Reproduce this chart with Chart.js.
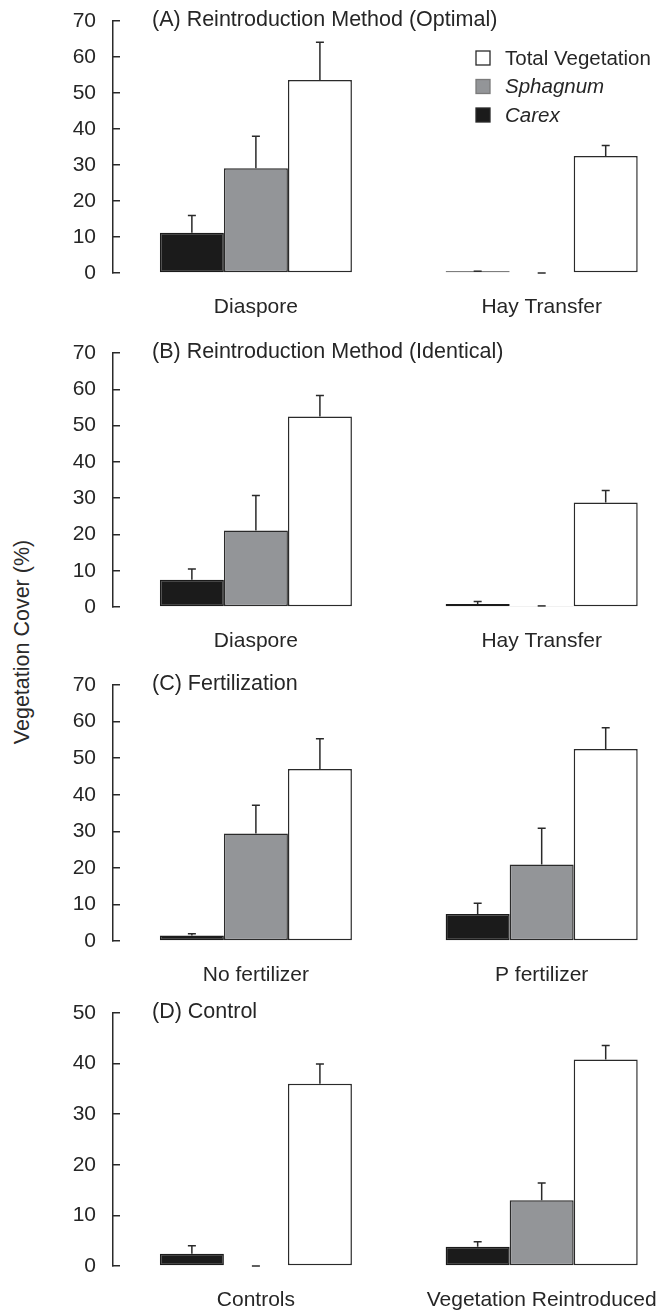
<!DOCTYPE html>
<html>
<head>
<meta charset="utf-8">
<script src="https://cdn.jsdelivr.net/npm/chart.js@4.4.1/dist/chart.umd.min.js"></script>
<style>
  html, body { margin: 0; padding: 0; background: #fff; width: 660px; height: 1310px; overflow: hidden; }
  body { position: relative; }
  canvas { position: absolute; left: 0; }
  #ytitle {
    position: absolute; left: -127px; top: 629px; width: 300px; height: 26px; line-height: 26px;
    text-align: center; transform: rotate(-90deg);
    font: 21.5px "Liberation Sans", Arial, sans-serif; color: #2a2a2a; white-space: nowrap;
  }
</style>
</head>
<body>
<div id="ytitle">Vegetation Cover (%)</div>
<script>
// Series (drawn left to right inside each group)
const seriesNames = ['Carex', 'Sphagnum', 'Total Vegetation'];
const seriesItalic = [true, true, false];

// (A) Reintroduction Method (Optimal)
const titleA = '(A) Reintroduction Method (Optimal)';
const catsA = ['Diaspore', 'Hay Transfer'];
const carexA = [11.2, 0.5];
const carexErrA = [4.8, 0];
const sphagA = [29.1, 0];
const sphagErrA = [8.9, 0];
const totalA = [53.6, 32.5];
const totalErrA = [10.5, 2.9];
const yMaxA = 70;

// (B) Reintroduction Method (Identical)
const titleB = '(B) Reintroduction Method (Identical)';
const catsB = ['Diaspore', 'Hay Transfer'];
const carexB = [7.5, 0.8];
const carexErrB = [3.0, 0.7];
const sphagB = [21.1, 0.3];
const sphagErrB = [9.6, 0];
const totalB = [52.5, 28.8];
const totalErrB = [5.8, 3.3];
const yMaxB = 70;

// (C) Fertilization
const titleC = '(C) Fertilization';
const catsC = ['No fertilizer', 'P fertilizer'];
const carexC = [1.5, 7.4];
const carexErrC = [0.5, 2.9];
const sphagC = [29.4, 20.9];
const sphagErrC = [7.7, 9.9];
const totalC = [47.0, 52.5];
const totalErrC = [8.3, 5.8];
const yMaxC = 70;

// (D) Control
const titleD = '(D) Control';
const catsD = ['Controls', 'Vegetation Reintroduced'];
const carexD = [2.4, 3.8];
const carexErrD = [1.6, 1.0];
const sphagD = [0, 13.0];
const sphagErrD = [0, 3.4];
const totalD = [36.0, 40.8];
const totalErrD = [3.9, 2.8];
const yMaxD = 50;

const FONT = '"Liberation Sans", Arial, sans-serif';
const INK = '#262626';
const fills = ['#1b1b1b', '#939598', '#ffffff'];
const edges = ['#1b1b1b', '#2a2a2a', '#2a2a2a'];

Chart.defaults.font.family = FONT;
Chart.defaults.color = INK;

// Upward error whiskers with a short cap
const errorBarPlugin = {
  id: 'errorBars',
  afterDatasetsDraw(chart, args, opts) {
    const ctx = chart.ctx;
    const ys = chart.scales.y;
    ctx.save();
    ctx.strokeStyle = opts.color;
    ctx.lineWidth = opts.width;
    chart.data.datasets.forEach((ds, i) => {
      const meta = chart.getDatasetMeta(i);
      meta.data.forEach((bar, j) => {
        const v = ds.data[j].y;
        const top = ys.getPixelForValue(v + ds.errors[j]);
        ctx.beginPath();
        ctx.moveTo(bar.x, bar.y);
        ctx.lineTo(bar.x, top);
        ctx.moveTo(bar.x - opts.cap, top);
        ctx.lineTo(bar.x + opts.cap, top);
        ctx.stroke();
      });
    });
    ctx.restore();
  }
};

// Panel heading written inside the plot, level with the top tick
const panelTitlePlugin = {
  id: 'panelTitle',
  afterDraw(chart, args, opts) {
    const ctx = chart.ctx;
    const a = chart.chartArea;
    ctx.save();
    ctx.font = opts.size + 'px ' + FONT;
    ctx.fillStyle = INK;
    ctx.textBaseline = 'alphabetic';
    ctx.textAlign = 'left';
    ctx.fillText(opts.text, a.left + opts.dx, a.top + opts.dy);
    ctx.restore();
  }
};

// Key with per-entry font style (taxon names in italics)
const keyPlugin = {
  id: 'sideKey',
  afterDraw(chart, args, opts) {
    if (!opts.show) return;
    const ctx = chart.ctx;
    const a = chart.chartArea;
    ctx.save();
    [2, 1, 0].forEach((di, k) => {
      const ds = chart.data.datasets[di];
      const cy = a.top + opts.firstRow + k * opts.rowGap;
      ctx.fillStyle = ds.backgroundColor;
      ctx.fillRect(opts.x, cy - 7, 14, 14);
      ctx.strokeStyle = di === 1 ? '#7a7a7a' : '#2a2a2a';
      ctx.lineWidth = 1.3;
      ctx.strokeRect(opts.x, cy - 7, 14, 14);
      ctx.fillStyle = INK;
      ctx.font = (seriesItalic[di] ? 'italic ' : '') + opts.size + 'px ' + FONT;
      ctx.textBaseline = 'middle';
      ctx.textAlign = 'left';
      ctx.fillText(ds.label, opts.x + 29, cy + 1);
    });
    ctx.restore();
  }
};

function makePanel(top, plotH, title, cats, series, errs, yMax, showKey) {
  const H = 21 + plotH + 48;
  const cv = document.createElement('canvas');
  cv.width = 660;
  cv.height = H;
  cv.style.top = top + 'px';
  cv.style.width = '660px';
  cv.style.height = H + 'px';
  document.body.appendChild(cv);

  const datasets = series.map((vals, s) => ({
    label: seriesNames[s],
    data: vals.map((v, i) => ({ x: i, y: v })),
    errors: errs[s],
    backgroundColor: fills[s],
    borderColor: edges[s],
    borderWidth: 1.5,
    borderSkipped: false
  }));

  new Chart(cv, {
    type: 'bar',
    data: { datasets },
    options: {
      responsive: false,
      animation: false,
      devicePixelRatio: 1,
      layout: { padding: { top: 21, right: 4, left: 0, bottom: 0 } },
      datasets: { bar: { categoryPercentage: 0.672, barPercentage: 1 } },
      scales: {
        x: {
          type: 'linear',
          offset: false,
          min: -0.5,
          max: 1.4,
          grid: { display: false },
          border: { display: false },
          afterBuildTicks: (s) => { s.ticks = cats.map((c, i) => ({ value: i })); },
          afterFit: (s) => { s.height = 48; s.paddingLeft = 0; s.paddingRight = 0; },
          ticks: {
            callback: (v) => cats[v],
            font: { size: 21 },
            color: INK,
            padding: 14,
            maxRotation: 0,
            autoSkip: false
          }
        },
        y: {
          min: 0,
          max: yMax,
          afterFit: (s) => { s.width = 113; s.paddingTop = 0; s.paddingBottom = 0; },
          ticks: { stepSize: 10, font: { size: 21 }, color: INK, padding: 24 },
          grid: { drawOnChartArea: false, tickLength: -7, color: '#2a2a2a', lineWidth: 1.5 },
          border: { color: '#2a2a2a', width: 1.5 }
        }
      },
      plugins: {
        legend: { display: false },
        tooltip: { enabled: false },
        errorBars: { color: '#2a2a2a', width: 1.5, cap: 4 },
        panelTitle: { text: title, size: 21.5, dx: 39, dy: 5 },
        sideKey: { show: showKey, x: 476, firstRow: 37, rowGap: 28.5, size: 20.5 }
      }
    },
    plugins: [errorBarPlugin, panelTitlePlugin, keyPlugin]
  });
}

makePanel(0, 252, titleA, catsA, [carexA, sphagA, totalA], [carexErrA, sphagErrA, totalErrA], yMaxA, true);
makePanel(332, 254, titleB, catsB, [carexB, sphagB, totalB], [carexErrB, sphagErrB, totalErrB], yMaxB, false);
makePanel(664, 256, titleC, catsC, [carexC, sphagC, totalC], [carexErrC, sphagErrC, totalErrC], yMaxC, false);
makePanel(992, 253, titleD, catsD, [carexD, sphagD, totalD], [carexErrD, sphagErrD, totalErrD], yMaxD, false);
</script>
</body>
</html>
